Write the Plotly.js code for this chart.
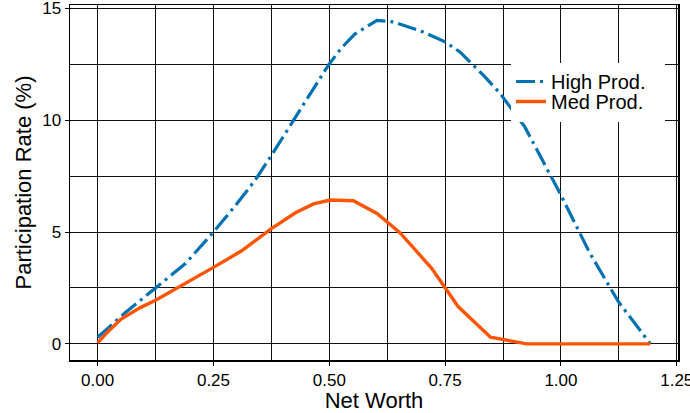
<!DOCTYPE html>
<html>
<head>
<meta charset="utf-8">
<script src="https://cdn.plot.ly/plotly-3.0.1.min.js"></script>
<style>html,body{margin:0;padding:0;background:#fff;}#chart{width:690px;height:413px;}</style>
</head>
<body>
<div id="chart"></div>
<script>
// High Prod. series
const highX = [0.0, 0.06, 0.125, 0.19, 0.25, 0.30, 0.34, 0.373, 0.423, 0.498, 0.525, 0.555, 0.603, 0.639, 0.703, 0.75, 0.782, 0.833, 0.869, 0.922, 1.0, 1.0625, 1.124, 1.193];
const highY = [0.3, 1.4, 2.5, 3.6, 5.0, 6.25, 7.32, 8.36, 10.0, 12.46, 13.2, 13.85, 14.46, 14.39, 13.94, 13.5, 13.05, 12.0, 11.19, 9.7, 6.65, 4.05, 1.89, 0.0];
// Med Prod. series
const medX = [0.0, 0.02, 0.05, 0.09, 0.125, 0.19, 0.25, 0.31, 0.375, 0.427, 0.466, 0.502, 0.552, 0.603, 0.653, 0.721, 0.778, 0.848, 0.926, 1.0, 1.1, 1.193];
const medY = [0.05, 0.5, 1.1, 1.6, 1.95, 2.7, 3.42, 4.15, 5.15, 5.86, 6.26, 6.43, 6.40, 5.83, 4.96, 3.38, 1.67, 0.30, 0.0, 0.0, 0.0, 0.0];
const seriesNames = ["High Prod.", "Med Prod."];
const xTicks = [0, 0.25, 0.5, 0.75, 1.0, 1.25];
const xTickText = ["0.00", "0.25", "0.50", "0.75", "1.00", "1.25"];
const yTicks = [0, 5, 10, 15];

const FONT = "Liberation Sans, Arial, Helvetica, sans-serif";

const traces = [
  {x: highX, y: highY, name: seriesNames[0], mode: "lines", legend: "legend",
   line: {color: "#0072B2", width: 3.2, dash: "19px,5px,3px,5px"}},
  {x: medX, y: medY, name: seriesNames[1], mode: "lines", legend: "legend2",
   line: {color: "#FF5500", width: 3.4}}
];

const axisCommon = {
  showline: true, linecolor: "#000", linewidth: 1.5, mirror: true,
  ticks: "outside", ticklen: 4, tickcolor: "#000", tickwidth: 1,
  showgrid: true, gridcolor: "#111", gridwidth: 1,
  zeroline: false, ticklabeloverflow: "allow",
  tickfont: {family: FONT, size: 17, color: "#000"}
};

const legendCommon = {
  xanchor: "left", yanchor: "top",
  bgcolor: "rgba(0,0,0,0)", borderwidth: 0,
  font: {family: FONT, size: 20, color: "#000"},
  itemwidth: 30
};

const layout = {
  width: 690, height: 413,
  margin: {l: 70, r: 12, t: 5, b: 53},
  paper_bgcolor: "#fff", plot_bgcolor: "#fff",
  font: {family: FONT, color: "#000"},
  showlegend: true,
  legend: Object.assign({}, legendCommon, {x: (511 - 70) / 608, y: 1 - (62 - 5) / 355}),
  legend2: Object.assign({}, legendCommon, {x: (511 - 70) / 608, y: 1 - (82 - 5) / 355}),
  shapes: [
    {type: "rect", xref: "paper", yref: "paper", layer: "above",
     x0: (511 - 70) / 608, x1: (665 - 70) / 608,
     y0: 1 - (122 - 5) / 355, y1: 1 - (63 - 5) / 355,
     fillcolor: "#fff", line: {width: 0}}
  ],
  xaxis: Object.assign({}, axisCommon, {
    range: [-0.0597, 1.2527],
    tickmode: "array", tickvals: xTicks, ticktext: xTickText,
    minor: {dtick: 0.125, tick0: 0, showgrid: true, gridcolor: "#111", gridwidth: 1, ticks: ""},
    title: {text: "Net Worth", font: {family: FONT, size: 22, color: "#000"}, standoff: 2}
  }),
  yaxis: Object.assign({}, axisCommon, {
    range: [-0.72, 15.15],
    tickmode: "array", tickvals: yTicks,
    minor: {dtick: 2.5, tick0: 0, showgrid: true, gridcolor: "#111", gridwidth: 1, ticks: ""},
    title: {text: "Participation Rate (%)", font: {family: FONT, size: 22, color: "#000"}, standoff: 4}
  })
};

Plotly.newPlot("chart", traces, layout, {displayModeBar: false, staticPlot: true});
</script>
</body>
</html>
